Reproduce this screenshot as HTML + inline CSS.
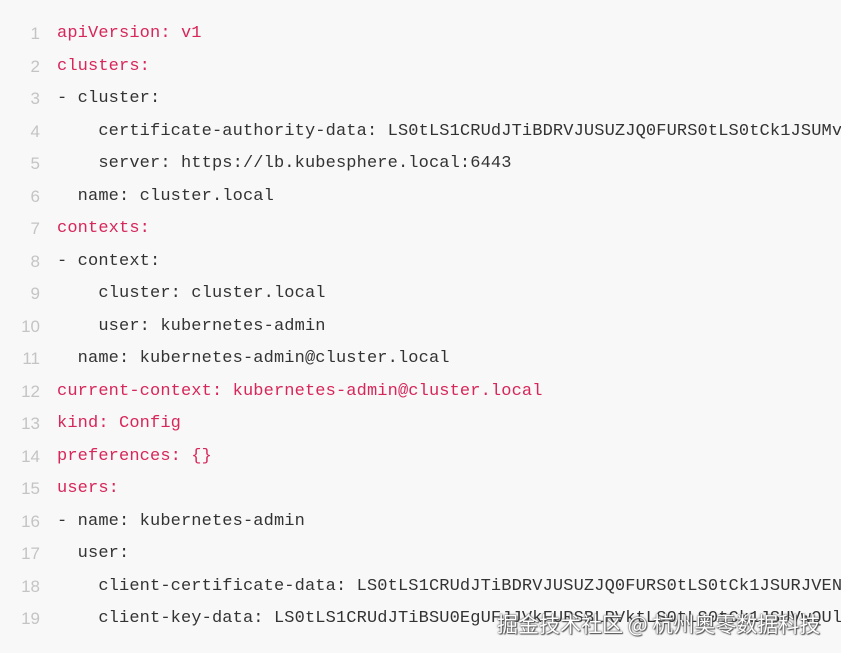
<!DOCTYPE html>
<html><head><meta charset="utf-8"><style>
html,body{margin:0;padding:0;}
body{width:841px;height:653px;background:#f8f8f8;overflow:hidden;position:relative;font-family:"Liberation Mono",monospace;font-size:17px;}
#w{position:absolute;left:0;top:0;width:841px;height:653px;overflow:hidden;}
.l{position:absolute;left:0;width:841px;overflow:hidden;height:32px;line-height:32px;white-space:pre;}
.n{position:absolute;left:0;width:40px;text-align:right;color:#c4c4c4;font-family:"Liberation Sans",sans-serif;font-size:17px;}
.c{position:absolute;left:57px;color:#333;letter-spacing:0.13px;}
.k{color:#d7265a;}
.wm{position:absolute;left:497px;top:609px;font-family:"Noto Sans CJK SC",sans-serif;font-size:21px;color:#fff;text-shadow:0 0 1px #444,0 0 2px #555,1px 1px 1px #555;white-space:nowrap;}
</style></head><body><div id="w">
<div class="l" style="top:18px"><span class="n">1</span><span class="c"><span class="k">apiVersion: v1</span></span></div>
<div class="l" style="top:50.5px"><span class="n">2</span><span class="c"><span class="k">clusters:</span></span></div>
<div class="l" style="top:83px"><span class="n">3</span><span class="c">- cluster:</span></div>
<div class="l" style="top:115.5px"><span class="n">4</span><span class="c">    certificate-authority-data: LS0tLS1CRUdJTiBDRVJUSUZJQ0FURS0tLS0tCk1JSUMvakNDQWVhZ0F3</span></div>
<div class="l" style="top:148px"><span class="n">5</span><span class="c">    server: https://lb.kubesphere.local:6443</span></div>
<div class="l" style="top:180.5px"><span class="n">6</span><span class="c">  name: cluster.local</span></div>
<div class="l" style="top:213px"><span class="n">7</span><span class="c"><span class="k">contexts:</span></span></div>
<div class="l" style="top:245.5px"><span class="n">8</span><span class="c">- context:</span></div>
<div class="l" style="top:278px"><span class="n">9</span><span class="c">    cluster: cluster.local</span></div>
<div class="l" style="top:310.5px"><span class="n">10</span><span class="c">    user: kubernetes-admin</span></div>
<div class="l" style="top:343px"><span class="n">11</span><span class="c">  name: kubernetes-admin@cluster.local</span></div>
<div class="l" style="top:375.5px"><span class="n">12</span><span class="c"><span class="k">current-context: kubernetes-admin@cluster.local</span></span></div>
<div class="l" style="top:408px"><span class="n">13</span><span class="c"><span class="k">kind: Config</span></span></div>
<div class="l" style="top:440.5px"><span class="n">14</span><span class="c"><span class="k">preferences: {}</span></span></div>
<div class="l" style="top:473px"><span class="n">15</span><span class="c"><span class="k">users:</span></span></div>
<div class="l" style="top:505.5px"><span class="n">16</span><span class="c">- name: kubernetes-admin</span></div>
<div class="l" style="top:538px"><span class="n">17</span><span class="c">  user:</span></div>
<div class="l" style="top:570.5px"><span class="n">18</span><span class="c">    client-certificate-data: LS0tLS1CRUdJTiBDRVJUSUZJQ0FURS0tLS0tCk1JSURJVENDQWdtZ0F3</span></div>
<div class="l" style="top:603px"><span class="n">19</span><span class="c">    client-key-data: LS0tLS1CRUdJTiBSU0EgUFJJVkFURSBLRVktLS0tLS0tCk1JSUVwQUlCQUFLQ0FR</span></div>
<div class="wm">掘金技术社区 @ 杭州奥零数据科技</div>
</div></body></html>
